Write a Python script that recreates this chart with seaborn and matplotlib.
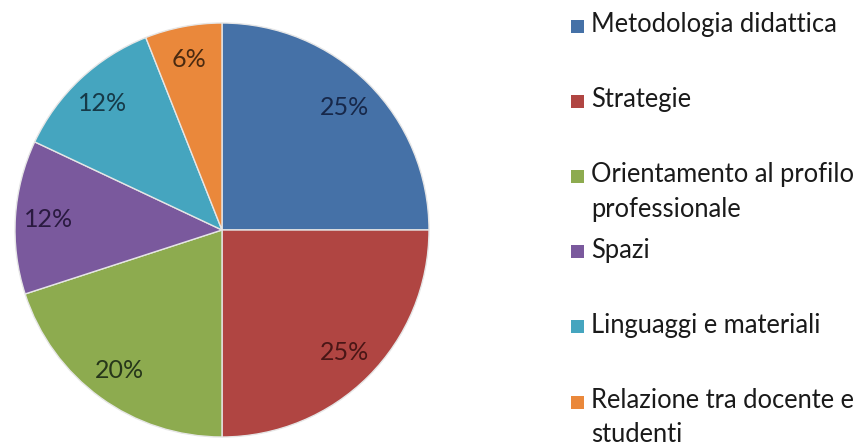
import matplotlib
matplotlib.use("Agg")
import matplotlib.pyplot as plt
import seaborn as sns
from matplotlib.patches import Rectangle

categories = ["Metodologia didattica", "Strategie", "Orientamento al profilo\nprofessionale",
              "Spazi", "Linguaggi e materiali", "Relazione tra docente e\nstudenti"]
values = [25, 25, 20, 12, 12, 6]
pct_labels = ["25%", "25%", "20%", "12%", "12%", "6%"]
slice_colors = ["#4571A7", "#B04542", "#8DAB4F", "#7A599D", "#45A5BF", "#EA883B"]
label_colors = ["#17284A", "#4A1616", "#26361A", "#2A1A40", "#163A48", "#4A2A10"]

sns.set_theme(style="white")
plt.rcParams['font.family'] = ['Lato', 'DejaVu Sans']

W, H = 864, 446
fig = plt.figure(figsize=(W / 100, H / 100), dpi=100)
fig.patch.set_facecolor("white")

cx, cy, r = 222, 230, 207
ax = fig.add_axes([(cx - r) / W, (H - cy - r) / H, 2 * r / W, 2 * r / H])
palette = sns.color_palette(slice_colors)
wedges, texts, autotexts = ax.pie(
    values, colors=palette, startangle=90, counterclock=False,
    labels=None, autopct="%d%%", pctdistance=0.84, radius=1,
    wedgeprops=dict(edgecolor="#E6E6E6", linewidth=1.0),
)
for t, lab, c in zip(autotexts, pct_labels, label_colors):
    t.set_text(lab)
    t.set_color(c)
    t.set_fontsize(18)
ax.set_xlim(-1, 1)
ax.set_ylim(-1, 1)
ax.set_aspect("equal")
ax.axis("off")

# legend (Excel style: first lines at uniform pitch)
y0, pitch = 26, 75.2
sq = 13
for i, (lab, col) in enumerate(zip(categories, palette)):
    yc = y0 + pitch * i
    fig.patches.append(Rectangle(((571) / W, (H - yc - sq / 2) / H), sq / W, sq / H,
                                 transform=fig.transFigure, facecolor=col, edgecolor="none"))
    fig.text(591 / W, (H - yc + 14) / H, lab, ha="left", va="top", fontsize=18.4,
             color="#1A1A1A", linespacing=1.47)

fig.savefig("out.png", dpi=100, facecolor="white")
